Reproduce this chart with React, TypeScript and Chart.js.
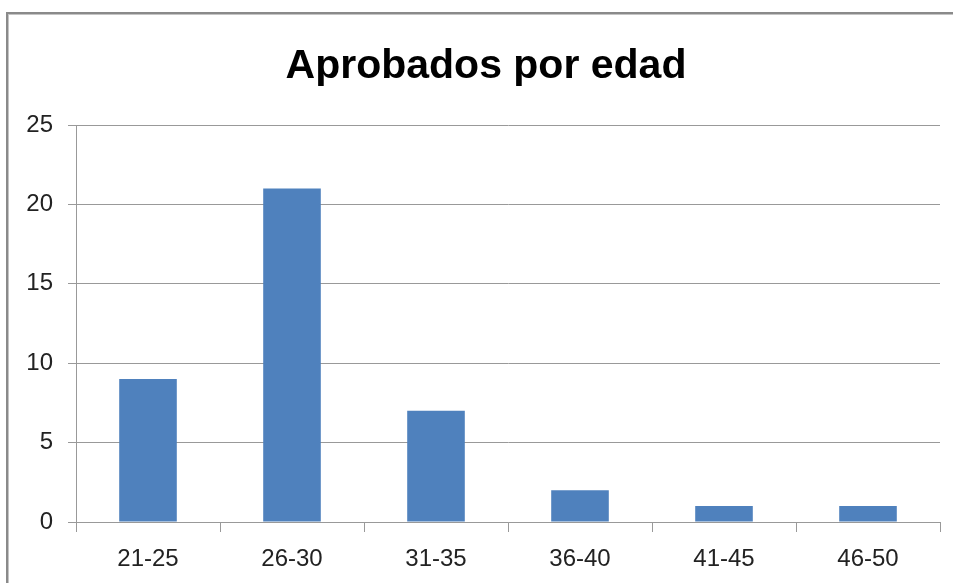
import React, { useEffect, useRef } from "react";
import { Chart, registerables } from "chart.js";

Chart.register(...registerables);

const title = "Aprobados por edad";
const categories = ["21-25", "26-30", "31-35", "36-40", "41-45", "46-50"];
const aprobados = [9, 21, 7, 2, 1, 1];
const yMin = 0;
const yMax = 25;
const yStep = 5;

const FONT = "'Liberation Sans', Arial, sans-serif";

const frame = {
  id: "frame",
  beforeDraw(chart: any) {
    const ctx = chart.ctx;
    ctx.save();
    ctx.fillStyle = "#ffffff";
    ctx.fillRect(0, 0, chart.width, chart.height);
    ctx.fillStyle = "#8a8a8a";
    ctx.fillRect(6, 12, chart.width - 6, 2);
    ctx.fillRect(6, 12, 2, chart.height - 12);
    ctx.fillStyle = "#c4c4c4";
    ctx.fillRect(8, 14, chart.width - 8, 1);
    ctx.fillRect(8, 14, 1, chart.height - 14);
    ctx.restore();
  },
  afterDraw(chart: any) {
    const ctx = chart.ctx;
    ctx.save();
    ctx.fillStyle = "#000000";
    ctx.font = `bold 41px ${FONT}`;
    ctx.textAlign = "center";
    ctx.textBaseline = "alphabetic";
    ctx.fillText(title, 486, 78);
    ctx.restore();
  },
};

export default function App() {
  const ref = useRef<HTMLCanvasElement | null>(null);
  useEffect(() => {
    if (!ref.current) return;
    const chart = new Chart(ref.current, {
      type: "bar",
      data: {
        labels: categories,
        datasets: [
          {
            label: "Aprobados",
            data: aprobados,
            backgroundColor: "#4F81BD",
            borderWidth: 0,
            categoryPercentage: 1,
            barPercentage: 0.4,
          },
        ],
      },
      options: {
        responsive: false,
        maintainAspectRatio: false,
        animation: false,
        layout: { padding: { left: 0, right: 13, top: 125, bottom: 0 } },
        plugins: {
          legend: { display: false },
          tooltip: { enabled: false },
          title: { display: false },
        },
        scales: {
          x: {
            grid: {
              display: true,
              drawOnChartArea: false,
              drawTicks: true,
              tickLength: 10,
              color: "#999999",
              offset: true,
            },
            border: { display: true, color: "#999999" },
            ticks: {
              color: "#222222",
              font: { family: FONT, size: 24 },
              padding: 13,
              maxRotation: 0,
            },
            afterFit(scale: any) {
              scale.height = 61;
            },
          },
          y: {
            min: yMin,
            max: yMax,
            ticks: {
              stepSize: yStep,
              color: "#222222",
              font: { family: FONT, size: 24 },
              padding: 15,
            },
            grid: {
              color: "#999999",
              tickLength: 8,
              drawTicks: true,
            },
            border: { display: true, color: "#999999" },
            afterFit(scale: any) {
              scale.width = 76;
            },
          },
        },
      },
      plugins: [frame],
    });
    return () => chart.destroy();
  }, []);
  return (
    <div style={{ position: "absolute", left: 0, top: 0, width: 953, height: 583 }}>
      <canvas ref={ref} width={953} height={583} style={{ display: "block" }} />
    </div>
  );
}
